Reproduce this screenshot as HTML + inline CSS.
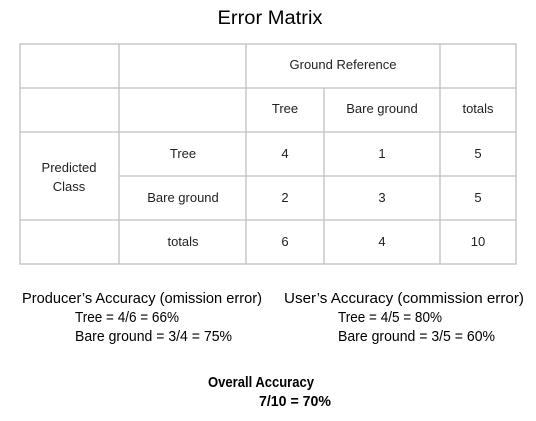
<!DOCTYPE html>
<html><head><meta charset="utf-8"><style>
html,body{margin:0;padding:0;background:#fff;}
svg{display:block;font-family:"Liberation Sans",Arial,sans-serif;}
</style></head><body>
<svg width="536" height="421" viewBox="0 0 536 421">
<text x="270" y="24" font-size="19" text-anchor="middle" textLength="105" lengthAdjust="spacingAndGlyphs">Error Matrix</text>
<g stroke="#c0c0c0" stroke-width="1.3" fill="none">
<rect x="20" y="44" width="496" height="220"/>
<line x1="20" y1="88" x2="516" y2="88"/>
<line x1="20" y1="132" x2="516" y2="132"/>
<line x1="119" y1="176" x2="516" y2="176"/>
<line x1="20" y1="220" x2="516" y2="220"/>
<line x1="119" y1="44" x2="119" y2="264"/>
<line x1="246" y1="44" x2="246" y2="264"/>
<line x1="324" y1="88" x2="324" y2="264"/>
<line x1="440" y1="44" x2="440" y2="264"/>
</g>
<g font-size="13" fill="#222" text-anchor="middle">
<text x="343" y="69">Ground Reference</text>
<text x="285" y="113">Tree</text>
<text x="382" y="113">Bare ground</text>
<text x="478" y="113">totals</text>
<text x="69" y="172">Predicted</text>
<text x="69" y="191">Class</text>
<text x="183" y="158">Tree</text>
<text x="183" y="202">Bare ground</text>
<text x="183" y="246">totals</text>
<text x="285" y="158">4</text><text x="382" y="158">1</text><text x="478" y="158">5</text>
<text x="285" y="202">2</text><text x="382" y="202">3</text><text x="478" y="202">5</text>
<text x="285" y="246">6</text><text x="382" y="246">4</text><text x="478" y="246">10</text>
</g>
<g font-size="15" fill="#000">
<text x="22" y="303" textLength="240" lengthAdjust="spacingAndGlyphs">Producer’s Accuracy (omission error)</text>
<text x="75" y="322" textLength="104" lengthAdjust="spacingAndGlyphs">Tree = 4/6 = 66%</text>
<text x="75" y="341" textLength="157" lengthAdjust="spacingAndGlyphs">Bare ground = 3/4 = 75%</text>
<text x="284" y="303" textLength="240" lengthAdjust="spacingAndGlyphs">User’s Accuracy (commission error)</text>
<text x="338" y="322" textLength="104" lengthAdjust="spacingAndGlyphs">Tree = 4/5 = 80%</text>
<text x="338" y="341" textLength="157" lengthAdjust="spacingAndGlyphs">Bare ground = 3/5 = 60%</text>
<text x="208" y="387" font-size="15" font-weight="bold" textLength="106" lengthAdjust="spacingAndGlyphs">Overall Accuracy</text>
<text x="259" y="406" font-size="15" font-weight="bold" textLength="72" lengthAdjust="spacingAndGlyphs">7/10 = 70%</text>
</g>
</svg>
</body></html>
